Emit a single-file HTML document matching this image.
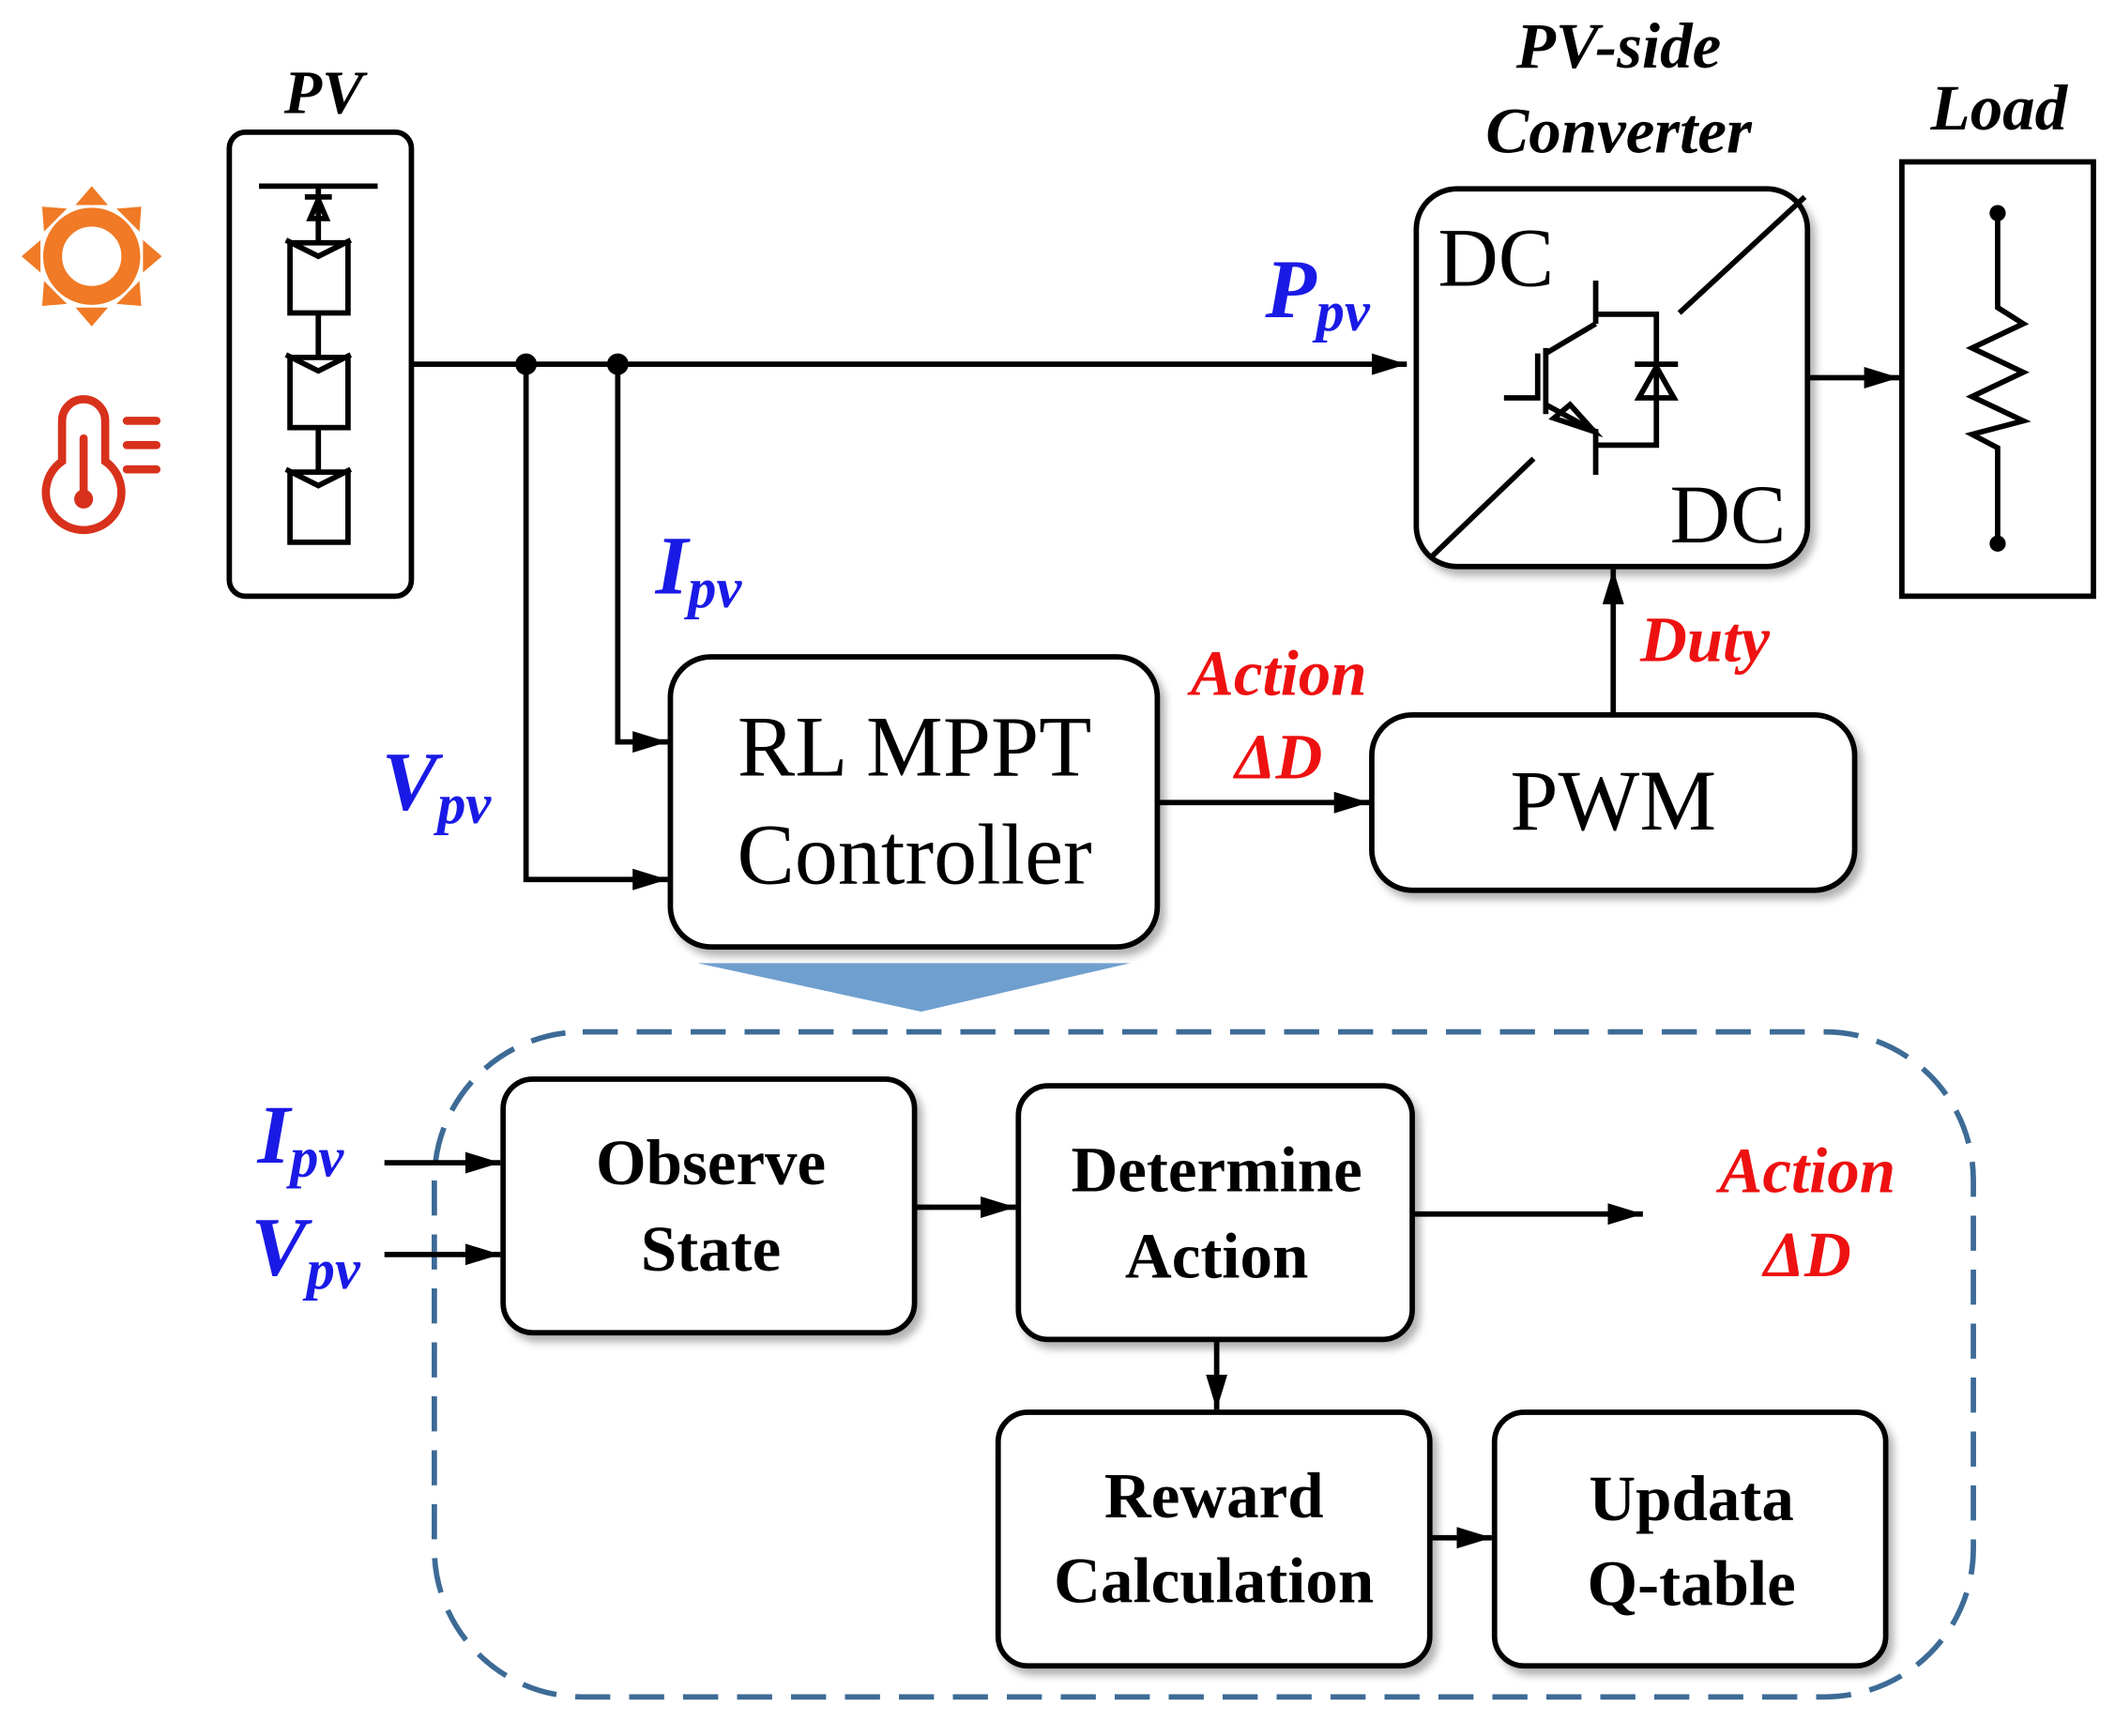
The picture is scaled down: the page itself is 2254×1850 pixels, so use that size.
<!DOCTYPE html>
<html><head><meta charset="utf-8"><style>html,body{margin:0;padding:0;background:#fff}svg{display:block}</style></head><body>
<svg width="2254" height="1850" viewBox="0 0 1568 1287" preserveAspectRatio="none" xmlns="http://www.w3.org/2000/svg" font-family="Liberation Serif, serif">
<defs>
<marker id="b" viewBox="0 0 10 10" refX="10" refY="5" markerWidth="26" markerHeight="16" orient="auto" markerUnits="userSpaceOnUse" preserveAspectRatio="none"><path d="M0,0 L10,5 L0,10 Z" fill="#000"/></marker>
<filter id="s" x="-10%" y="-10%" width="130%" height="130%"><feDropShadow dx="4" dy="5" stdDeviation="3" flood-color="#000" flood-opacity="0.3"/></filter>
</defs>
<!-- sun -->
<g fill="#f07a25">
<g transform="translate(68,190)">
<g id="r"><path d="M-12,-38 L12,-38 L0,-52 Z"/></g>
<use href="#r" transform="rotate(45)"/><use href="#r" transform="rotate(90)"/><use href="#r" transform="rotate(135)"/><use href="#r" transform="rotate(180)"/><use href="#r" transform="rotate(225)"/><use href="#r" transform="rotate(270)"/><use href="#r" transform="rotate(315)"/>
</g>
<circle cx="68" cy="190" r="29" fill="none" stroke="#f07a25" stroke-width="14"/>
</g>
<!-- thermometer -->
<g stroke="#d8311c" stroke-width="6" fill="none" stroke-linecap="round">
<path d="M46,342 L46,312 A16,16 0 0 1 78,312 L78,342 A28,28 0 1 1 46,342 Z"/>
<line x1="62" y1="325" x2="62" y2="368"/>
<line x1="94" y1="312" x2="116" y2="312"/><line x1="94" y1="330" x2="116" y2="330"/><line x1="94" y1="348" x2="116" y2="348"/>
</g>
<circle cx="62" cy="370" r="7" fill="#d8311c"/>
<!-- PV box -->
<text x="240" y="84" font-size="46" font-weight="bold" font-style="italic" text-anchor="middle">PV</text>
<rect x="170" y="98" width="135" height="344" rx="12" fill="none" stroke="#000" stroke-width="4"/>
<g stroke="#000" stroke-width="4" fill="none">
<line x1="192" y1="138" x2="280" y2="138"/><line x1="236" y1="138" x2="236" y2="180"/><line x1="226" y1="146" x2="246" y2="146"/>
<path d="M236,148 L230,162 L242,162 Z"/>
<rect x="215" y="180" width="43" height="52"/><rect x="215" y="265" width="43" height="52"/><rect x="215" y="350" width="43" height="52"/>
<path d="M212,178 L236,190 L260,178"/><path d="M212,263 L236,275 L260,263"/><path d="M212,348 L236,360 L260,348"/>
<line x1="236" y1="232" x2="236" y2="265"/><line x1="236" y1="317" x2="236" y2="350"/>
</g>
<!-- wires -->
<g stroke="#000" stroke-width="4" fill="none">
<line x1="305" y1="270" x2="1043" y2="270" marker-end="url(#b)"/>
<polyline points="390,270 390,652 495,652" marker-end="url(#b)"/>
<polyline points="458,270 458,550 495,550" marker-end="url(#b)"/>
<line x1="858" y1="595" x2="1015" y2="595" marker-end="url(#b)"/>
<line x1="1196" y1="530" x2="1196" y2="422" marker-end="url(#b)"/>
<line x1="1340" y1="280" x2="1408" y2="280" marker-end="url(#b)"/>
</g>
<circle cx="390" cy="270" r="8"/><circle cx="458" cy="270" r="8"/>
<!-- labels blue -->
<g fill="#1a1ae6" font-weight="bold" font-style="italic">
<text x="938" y="235" font-size="62">P<tspan font-size="42" dy="10">pv</tspan></text>
<text x="486" y="440" font-size="62">I<tspan font-size="42" dy="10">pv</tspan></text>
<text x="283" y="600" font-size="62">V<tspan font-size="42" dy="10">pv</tspan></text>
<text x="191" y="862" font-size="62">I<tspan font-size="42" dy="10">pv</tspan></text>
<text x="186" y="945" font-size="62">V<tspan font-size="42" dy="10">pv</tspan></text>
</g>
<g fill="#ee1111" font-weight="bold" font-style="italic" font-size="48" text-anchor="middle">
<text x="948" y="515">Action</text><text x="948" y="577">ΔD</text>
<text x="1264" y="490">Duty</text>
<text x="1340" y="884">Action</text><text x="1340" y="946">ΔD</text>
</g>
<!-- RL box -->
<rect x="497" y="487" width="361" height="215" rx="30" fill="#fff" stroke="#000" stroke-width="4" filter="url(#s)"/>
<text x="678" y="575" font-size="64" text-anchor="middle">RL MPPT</text>
<text x="678" y="655" font-size="64" text-anchor="middle">Controller</text>
<!-- PWM -->
<rect x="1017" y="530" width="358" height="130" rx="30" fill="#fff" stroke="#000" stroke-width="4" filter="url(#s)"/>
<text x="1196" y="615" font-size="64" text-anchor="middle">PWM</text>
<!-- converter -->
<text x="1200" y="50" font-size="48" font-weight="bold" font-style="italic" text-anchor="middle">PV-side</text>
<text x="1200" y="113" font-size="48" font-weight="bold" font-style="italic" text-anchor="middle">Converter</text>
<rect x="1050" y="140" width="290" height="280" rx="30" fill="#fff" stroke="#000" stroke-width="4" filter="url(#s)"/>
<text x="1066" y="212" font-size="62">DC</text>
<text x="1238" y="402" font-size="62">DC</text>
<g stroke="#000" stroke-width="4" fill="none">
<line x1="1338" y1="146" x2="1245" y2="232"/><line x1="1137" y1="340" x2="1060" y2="414"/>
<line x1="1183" y1="208" x2="1183" y2="240"/><polyline points="1183,233 1228,233 1228,330 1183,330"/>
<line x1="1183" y1="318" x2="1183" y2="352"/>
<line x1="1183" y1="240" x2="1146" y2="262"/><line x1="1146" y1="258" x2="1146" y2="307"/>
<polyline points="1115,295 1140,295 1140,262"/>
<line x1="1146" y1="300" x2="1183" y2="320"/>
<path d="M1152,310 L1164,300 L1182,320 Z" stroke-width="4"/>
<line x1="1212" y1="270" x2="1244" y2="270"/><path d="M1228,272 L1215,295 L1241,295 Z"/>
</g>
<!-- load -->
<text x="1482" y="96" font-size="48" font-weight="bold" font-style="italic" text-anchor="middle">Load</text>
<rect x="1410" y="120" width="142" height="322" fill="none" stroke="#000" stroke-width="4"/>
<g stroke="#000" stroke-width="4" fill="none">
<polyline points="1481,158 1481,228 1500,240 1462,258 1500,276 1462,294 1500,312 1462,322 1481,332 1481,403"/>
</g>
<circle cx="1481" cy="158" r="6"/><circle cx="1481" cy="403" r="6"/>
<!-- funnel -->
<path d="M517,714 L838,714 L683,750 Z" fill="#6f9fcf"/>
<!-- dashed -->
<rect x="322" y="765" width="1141" height="493" rx="110" fill="none" stroke="#3d6b96" stroke-width="4" stroke-dasharray="26,14"/>
<!-- lower boxes -->
<g fill="#fff" stroke="#000" stroke-width="4" filter="url(#s)">
<rect x="373" y="800" width="305" height="188" rx="22"/>
<rect x="755" y="805" width="292" height="188" rx="22"/>
<rect x="740" y="1047" width="320" height="188" rx="22"/>
<rect x="1108" y="1047" width="290" height="188" rx="22"/>
</g>
<g font-size="48" font-weight="bold" text-anchor="middle">
<text x="527" y="878">Observe</text><text x="527" y="942">State</text>
<text x="902" y="883">Determine</text><text x="902" y="947">Action</text>
<text x="900" y="1125">Reward</text><text x="900" y="1188">Calculation</text>
<text x="1254" y="1127">Updata</text><text x="1254" y="1190">Q-table</text>
</g>
<g stroke="#000" stroke-width="4">
<line x1="285" y1="862" x2="371" y2="862" marker-end="url(#b)"/>
<line x1="285" y1="930" x2="371" y2="930" marker-end="url(#b)"/>
<line x1="678" y1="895" x2="753" y2="895" marker-end="url(#b)"/>
<line x1="1047" y1="900" x2="1218" y2="900" marker-end="url(#b)"/>
<line x1="902" y1="993" x2="902" y2="1045" marker-end="url(#b)"/>
<line x1="1060" y1="1140" x2="1106" y2="1140" marker-end="url(#b)"/>
</g>
</svg>
</body></html>
